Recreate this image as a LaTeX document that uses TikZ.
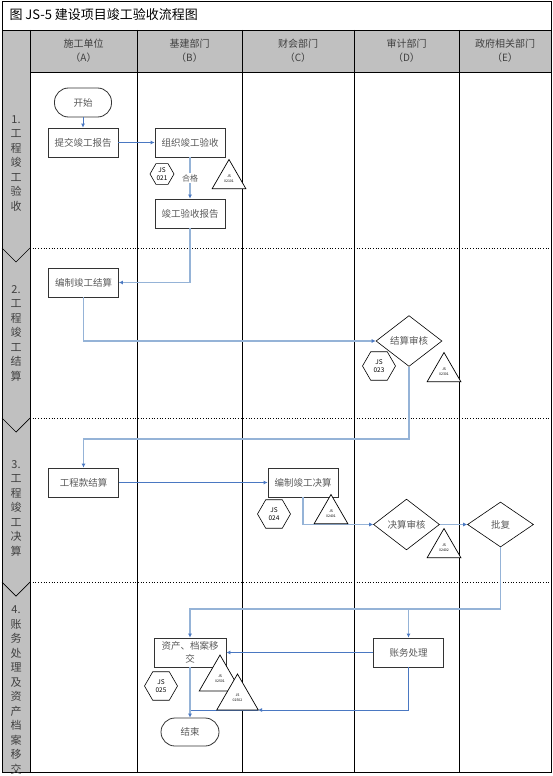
\documentclass[tikz,border=0pt]{standalone}
\usepackage{fontspec}
\setmainfont{Noto Sans CJK SC}
\usepackage{tikz}
\usetikzlibrary{arrows.meta,shapes.geometric}
\definecolor{flowblue}{HTML}{4A78C2}
\definecolor{lightblue}{HTML}{95B3D7}
\definecolor{headgray}{HTML}{C0C0C0}
\definecolor{txtgray}{HTML}{5A5A5A}
\tikzstyle{box}=[draw=black!80,line width=0.8pt,fill=white,minimum width=70pt,minimum height=29pt,inner sep=1pt,text=txtgray,font=\fontsize{9.5}{13}\selectfont,align=center]
\tikzstyle{term}=[box,rounded corners=14pt,minimum width=57pt]
\tikzstyle{check}=[diamond,draw=black,line width=0.6pt,fill=white,minimum width=66pt,minimum height=45pt,inner sep=1pt,text=txtgray,font=\fontsize{9.5}{11}\selectfont]
\tikzstyle{hexa}=[regular polygon,regular polygon sides=6,draw=black,line width=0.6pt,fill=white,minimum size=33pt,inner sep=0pt,font=\fontsize{6.5}{8}\selectfont,align=center]
\tikzstyle{tri}=[regular polygon,regular polygon sides=3,draw=black,line width=0.7pt,fill=white,minimum size=39pt,inner sep=0pt,font=\fontsize{3.5}{5}\selectfont,align=center]
\tikzstyle{flow}=[draw=flowblue,line width=0.8pt,-{Latex[length=4pt,width=4pt]}]
\tikzstyle{flowl}=[draw=lightblue,line width=1.3pt,-{Latex[length=4pt,width=4pt,color=flowblue]}]
\tikzstyle{head}=[text=black!75,font=\fontsize{10}{14}\selectfont,align=center]
\tikzstyle{phase}=[text=black!75,font=\fontsize{11}{14.5}\selectfont,align=center]

\begin{document}
\begin{tikzpicture}[x=1pt,y=-1pt]
        \useasboundingbox (0,0) rectangle (553,776);
        % lanes and header
        \fill[headgray] (30,30) rectangle (551,72);
        \fill[headgray] (2,30) rectangle (30,772);
        \foreach \x in {30,137,242,354,459}
          \draw[line width=0.9pt] (\x,30) -- (\x,772);
        \draw[line width=0.8pt] (2,30) -- (551,30);
        \draw[line width=0.8pt] (30,72) -- (551,72);
        \foreach \y in {248,418,582} {
          \draw[dotted,line width=0.7pt] (30,\y) -- (551,\y);
          \draw[line width=0.7pt] (2,\y) -- (16,\y+14) -- (30,\y);
        }
        \draw[line width=0.9pt] (2,1) rectangle (551,772);
        \node[anchor=west,font=\fontsize{13}{15}\selectfont] (title) at (6,15) {图 JS-5 建设项目竣工验收流程图};
        \node[head] (hA) at (83.5,51) {施工单位\\（A）};
        \node[head] (hB) at (189.5,51) {基建部门\\（B）};
        \node[head] (hC) at (298,51) {财会部门\\（C）};
        \node[head] (hD) at (406.5,51) {审计部门\\（D）};
        \node[head] (hE) at (505,51) {政府相关部门\\（E）};
        \node[phase] (p1) at (16,163.5) {1.\\工\\程\\竣\\工\\验\\收};
        \node[phase] (p2) at (16,333) {2.\\工\\程\\竣\\工\\结\\算};
        \node[phase] (p3) at (16,508) {3.\\工\\程\\竣\\工\\决\\算};
        \node[phase] (p4) at (16,690) {4.\\账\\务\\处\\理\\及\\资\\产\\档\\案\\移\\交};
        % steps
        \node[term] (start) at (83,102.5) {开始};
        \node[box] (tijiao) at (83,142.5) {提交竣工报告};
        \node[box] (zuzhi) at (190,142.5) {组织竣工验收};
        \node[box] (baogao) at (190,213.5) {竣工验收报告};
        \node[box] (jiesuan) at (83.5,282.5) {编制竣工结算};
        \node[check] (jsshenhe) at (409,341) {结算审核};
        \node[box] (kuan) at (83.5,482.5) {工程款结算};
        \node[box] (juesuan) at (303,482.5) {编制竣工决算};
        \node[check] (jueshenhe) at (406.5,524.5) {决算审核};
        \node[check] (pifu) at (500.5,524.5) {批复};
        \node[box] (zhangwu) at (408.5,652.5) {账务处理};
        \node[box,minimum width=72pt] (zichan) at (190,652.5) {资产、档案移\\交};
        \node[term,minimum width=58pt,minimum height=28pt] (end) at (190,732) {结束};
        \node[hexa,minimum size=24pt] (h021) at (162,174) {JS\\021};
        \node[hexa] (h023) at (379,366) {JS\\023};
        \node[hexa] (h024) at (274,514) {JS\\024};
        \node[hexa] (h025) at (161,686) {JS\\025};
        \coordinate (c3) at (409,439);
        \coordinate (c4) at (500.5,609);
        \coordinate (c5) at (190,710);
        \coordinate (c6) at (258,710);
        % connectors
        \draw[flow] (start) to (tijiao);
        \draw[flow] (tijiao) to (zuzhi);
        \draw[flowl] (zuzhi) to node[fill=white,inner sep=1pt,text=txtgray,font=\fontsize{8}{9}\selectfont] {合格} (baogao);
        \draw[flowl] (baogao.south) |- (jiesuan.east);
        \draw[flowl] (jiesuan.south) |- (jsshenhe.west);
        \draw[flowl] (jsshenhe.south) -- (c3) -| (kuan.north);
        \draw[flow] (kuan) to (juesuan);
        \draw[flowl] (juesuan.south) |- (jueshenhe.west);
        \draw[flowl] (jueshenhe) to (pifu);
        \draw[flowl] (pifu.south) -- (c4) -| (zichan.north);
        \draw[flowl] (c4 -| zhangwu.north) -- (zhangwu.north);
        \draw[flow] (zhangwu) to (zichan);
        \draw[flow] (zhangwu.south) |- (c6);
        \draw[draw=flowblue,line width=0.8pt] (c6) -- (c5);
        \draw[flowl] (zichan) to (end);
        % document marks
        \node[tri] (t02101) at (229,179) {JS\\02101};
        \node[tri] (t02301) at (444,372) {JS\\02301};
        \node[tri] (t02401) at (331,514) {JS\\02401};
        \node[tri] (t02402) at (444,548) {JS\\02402};
        \node[tri,minimum size=48pt] (t02501) at (220,679) {JS\\02501};
        \node[tri,minimum size=48pt] (t02502) at (237.5,698) {JS\\02502};
\end{tikzpicture}
\end{document}
